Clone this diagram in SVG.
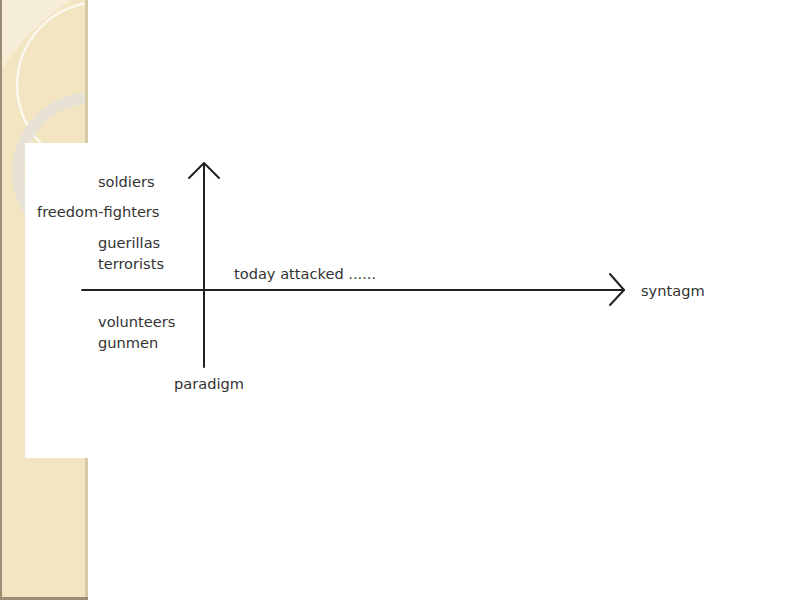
<svg xmlns="http://www.w3.org/2000/svg" width="800" height="600" viewBox="0 0 800 600">
<style>
.t{font-family:"DejaVu Sans","Liberation Sans",sans-serif;font-size:14.6px;fill:#333}
.ax{stroke:#222;stroke-width:2;fill:none;stroke-linecap:round;stroke-linejoin:round}
</style>
<defs>
<clipPath id="strip"><rect x="0" y="0" width="88" height="600"/></clipPath>
</defs>
<rect width="800" height="600" fill="#fff"/>
<g id="background" clip-path="url(#strip)">
<rect x="0" y="0" width="88" height="600" fill="#f3e5c2"/>
<path d="M0,0 H72 Q30,25 0,72 Z" fill="#f7eed8"/>
<circle cx="100" cy="85" r="83" fill="none" stroke="#fcf8ee" stroke-width="2.5"/>
<circle cx="92" cy="172" r="74" fill="none" stroke="#e7e2d4" stroke-width="12"/>
<rect x="0" y="0" width="2" height="600" fill="#9a8e76"/>
<rect x="85" y="0" width="3" height="600" fill="#d6c9a6"/>
<rect x="0" y="597" width="88" height="3" fill="#9a8e76"/>
</g>
<rect x="25" y="143" width="70" height="315" fill="#fff"/>
<g id="connectors">
<line class="ax" x1="82" y1="290" x2="624" y2="290"/>
<polyline class="ax" points="610,274 624,290 610,305"/>
<line class="ax" x1="204" y1="164" x2="204" y2="367"/>
<polyline class="ax" points="189,178 204,163 219,178"/>
</g>
<g id="labels">
<text class="t" x="98" y="187">soldiers</text>
<text class="t" x="37" y="217">freedom-fighters</text>
<text class="t" x="98" y="248">guerillas</text>
<text class="t" x="98" y="269">terrorists</text>
<text class="t" x="234" y="279">today attacked ......</text>
<text class="t" x="641" y="296">syntagm</text>
<text class="t" x="98" y="327">volunteers</text>
<text class="t" x="98" y="348">gunmen</text>
<text class="t" x="174" y="389">paradigm</text>
</g>
</svg>
